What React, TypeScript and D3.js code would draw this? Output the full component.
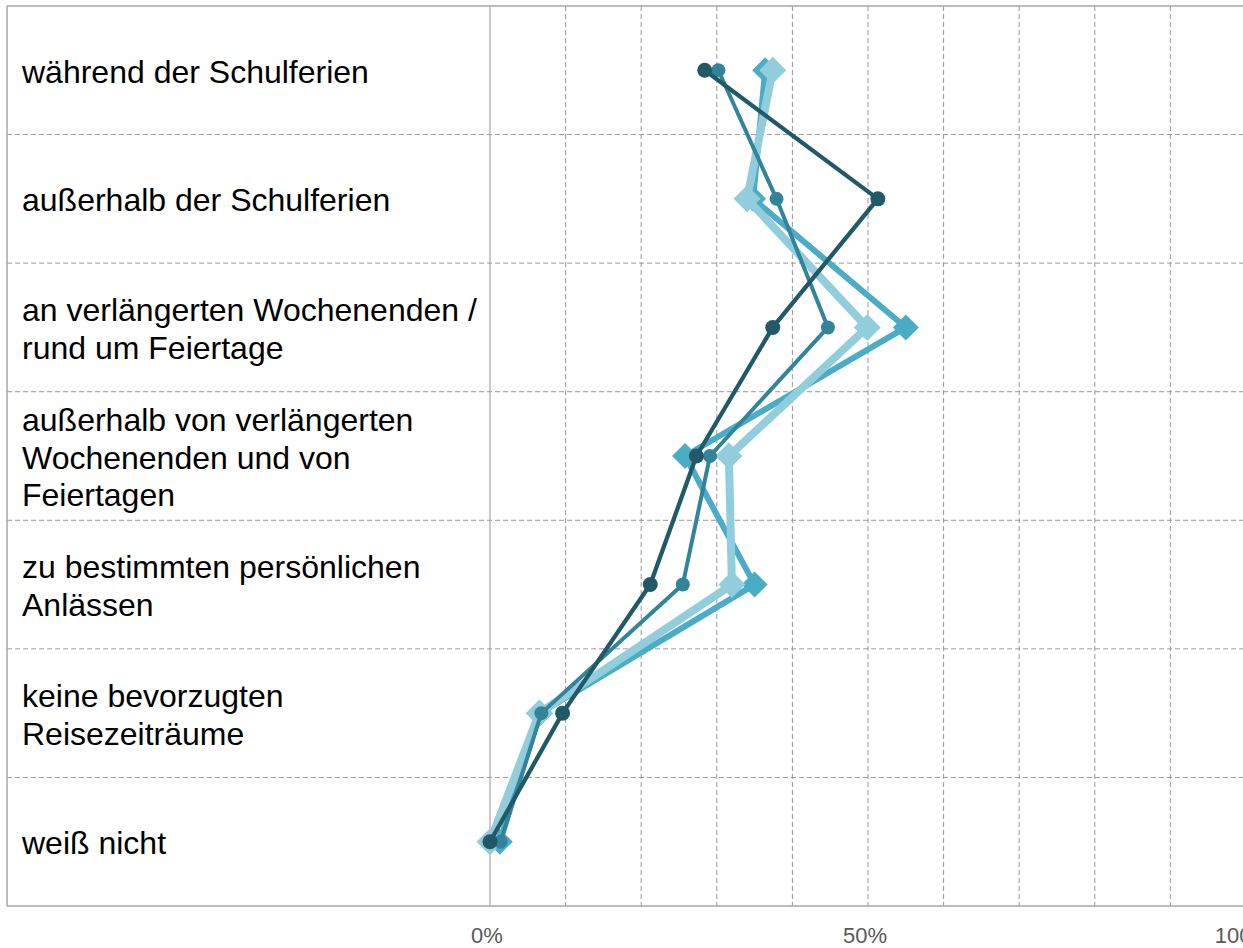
import * as d3 from "d3";

const W = 1243;
const H = 948;
const plot = { left: 7, top: 6, bottom: 906, zero: 490, full: 1246 };

const categories = [
  "während der Schulferien",
  "außerhalb der Schulferien",
  "an verlängerten Wochenenden / rund um Feiertage",
  "außerhalb von verlängerten Wochenenden und von Feiertagen",
  "zu bestimmten persönlichen Anlässen",
  "keine bevorzugten Reisezeiträume",
  "weiß nicht",
];

// how each category label wraps
const labelLines = [
  ["während der Schulferien"],
  ["außerhalb der Schulferien"],
  ["an verlängerten Wochenenden /", "rund um Feiertage"],
  ["außerhalb von verlängerten", "Wochenenden und von", "Feiertagen"],
  ["zu bestimmten persönlichen", "Anlässen"],
  ["keine bevorzugten", "Reisezeiträume"],
  ["weiß nicht"],
];

const tickValues = [0, 0.5, 1];
const tickLabels = ["0%", "50%", "100%"];
const gridValues = [0.1, 0.2, 0.3, 0.4, 0.5, 0.6, 0.7, 0.8, 0.9, 1.0];

// shares in percent, one value per category
const serieA = [37.4, 34.0, 49.9, 31.6, 32.0, 6.5, 0];
const serieB = [36.4, 34.8, 55.0, 25.8, 35.0, 6.6, 1.3];
const serieC = [30.2, 37.9, 44.7, 29.1, 25.5, 6.8, 1.4];
const serieD = [28.4, 51.3, 37.4, 27.3, 21.2, 9.6, 0];

// drawing order: later ones on top
const series = [
  { name: "B", values: serieB, color: "#4BACC6", width: 6, marker: "diamond", size: 13 },
  { name: "A", values: serieA, color: "#92CDDC", width: 8, marker: "diamond", size: 13.5 },
  { name: "C", values: serieC, color: "#31849B", width: 4, marker: "circle", size: 7 },
  { name: "D", values: serieD, color: "#215968", width: 4.3, marker: "circle", size: 7.5 },
];

const FONT = "'Liberation Sans', Arial, sans-serif";

export default function App() {
  const x = d3.scaleLinear().domain([0, 100]).range([plot.zero, plot.full]);
  const y = d3
    .scaleBand()
    .domain(categories)
    .range([plot.top, plot.bottom])
    .padding(0);
  const cy = (c: string) => (y(c) as number) + y.bandwidth() / 2;

  const line = d3
    .line<number>()
    .x((d) => x(d))
    .y((_, i) => cy(categories[i]));

  const rowEdges = categories.slice(1).map((c) => y(c) as number);

  return (
    <svg
      width={W}
      height={H}
      style={{ position: "absolute", left: 0, top: 0, background: "#fff" }}
    >
      {/* grid */}
      {rowEdges.map((yy, i) => (
        <line
          key={"h" + i}
          x1={plot.left}
          x2={W}
          y1={yy}
          y2={yy}
          stroke="#999"
          strokeWidth={1}
          strokeDasharray="5,3"
        />
      ))}
      {gridValues.map((g) => (
        <line
          key={"v" + g}
          x1={x(g * 100)}
          x2={x(g * 100)}
          y1={plot.top}
          y2={plot.bottom}
          stroke="#999"
          strokeWidth={1}
          strokeDasharray="5,3"
        />
      ))}
      <line x1={x(0)} x2={x(0)} y1={plot.top} y2={plot.bottom} stroke="#A6A6A6" strokeWidth={1.2} />
      {/* frame */}
      <line x1={plot.left} x2={W} y1={plot.top} y2={plot.top} stroke="#A6A6A6" strokeWidth={1.5} />
      <line x1={plot.left} x2={plot.left} y1={plot.top} y2={plot.bottom} stroke="#A6A6A6" strokeWidth={1.5} />
      <line x1={plot.left} x2={W} y1={plot.bottom} y2={plot.bottom} stroke="#A6A6A6" strokeWidth={1.5} />

      {/* category labels */}
      {labelLines.map((lines, ci) => (
        <text key={"c" + ci} fontFamily={FONT} fontSize={32} fill="#000">
          {lines.map((t, li) => (
            <tspan
              key={li}
              x={22}
              y={cy(categories[ci]) + (li - (lines.length - 1) / 2) * 37.8 + 12.5}
            >
              {t}
            </tspan>
          ))}
        </text>
      ))}

      {/* axis labels */}
      {tickValues.map((t, i) => (
        <text
          key={"t" + i}
          x={x(t * 100) - 3}
          y={943}
          textAnchor="middle"
          fontFamily={FONT}
          fontSize={22}
          fill="#595959"
        >
          {tickLabels[i]}
        </text>
      ))}

      {/* series */}
      {series.map((s) => (
        <g key={s.name}>
          <path
            d={line(s.values) || ""}
            fill="none"
            stroke={s.color}
            strokeWidth={s.width}
            strokeLinejoin="round"
          />
          {s.values.map((v, i) => {
            const px = x(v);
            const py = cy(categories[i]);
            if (s.marker === "circle") {
              return <circle key={i} cx={px} cy={py} r={s.size} fill={s.color} />;
            }
            const r = s.size;
            return (
              <path
                key={i}
                d={`M${px},${py - r}L${px + r},${py}L${px},${py + r}L${px - r},${py}Z`}
                fill={s.color}
              />
            );
          })}
        </g>
      ))}
    </svg>
  );
}
